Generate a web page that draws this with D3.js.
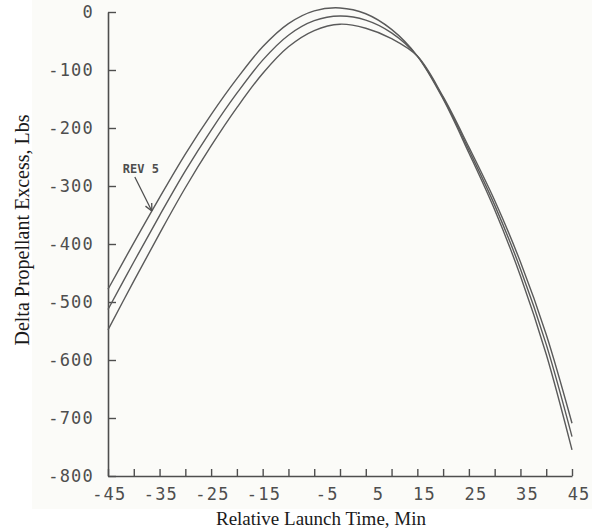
<!DOCTYPE html>
<html>
<head>
<meta charset="utf-8">
<script src="https://cdn.jsdelivr.net/npm/d3@7"></script>
<style>
  html, body { margin: 0; padding: 0; background: #ffffff; }
  svg { display: block; }
</style>
</head>
<body>
<svg id="chart" width="592" height="529"></svg>
<script>
// Relative launch time (min) at which each curve is sampled
const launchTimes = [-45, -40, -35, -30, -25, -20, -15, -10, -5, 0, 5, 10, 15, 20, 25, 30, 35, 40, 45];

// Delta propellant excess (lbs) for the three revolutions
const revUpper  = [-478, -398, -320, -245, -177, -115, -60, -20,   2,   7,  -3, -30, -76, -150, -243, -341, -455, -590, -755];
const revMiddle = [-513, -431, -351, -274, -204, -140, -83, -40, -15,  -7, -14, -36, -76, -148, -238, -333, -443, -573, -732];
const revLower  = [-548, -464, -382, -303, -231, -165, -106, -60, -32, -21, -28, -46, -76, -146, -233, -325, -431, -556, -709];

// Axis ticks and labels
const xTickValues = [-45, -40, -35, -30, -25, -20, -15, -10, -5, 0, 5, 10, 15, 20, 25, 30, 35, 40, 45];
const xLabelled   = [-45, -35, -25, -15, -5, 5, 15, 25, 35, 45];
const yTickValues = [0, -100, -200, -300, -400, -500, -600, -700, -800];

// Annotation
const calloutText = "REV 5";
const calloutTime = -36.5;

const svg = d3.select("#chart");
const ink = "#4e4e4e";
const plotterFont = "'DejaVu Sans Mono', monospace";

// faint paper tone behind the plot
svg.append("rect").attr("x", 32).attr("y", 0).attr("width", 560).attr("height", 509)
  .attr("fill", "#fbfbf8");

const x = d3.scaleLinear().domain([-45, 45]).range([108, 572]);
const y = d3.scaleLinear().domain([-800, 0]).range([476, 12]);

// Y axis with inward ticks
const yAxis = d3.axisLeft(y)
  .tickValues(yTickValues)
  .tickSizeInner(-8)
  .tickSizeOuter(0)
  .tickPadding(14)
  .tickFormat(d => d === 0 ? "0" : "-" + Math.abs(d));

const gy = svg.append("g").attr("transform", `translate(${x(-45)},0)`).call(yAxis);

// X axis with inward ticks, every other one labelled
const xAxis = d3.axisBottom(x)
  .tickValues(xTickValues)
  .tickSizeInner(-7)
  .tickSizeOuter(0)
  .tickPadding(12)
  .tickFormat(d => xLabelled.includes(d) ? (d < 0 ? "-" + Math.abs(d) : String(d)) : "");

const gx = svg.append("g").attr("transform", `translate(0,${y(-800)})`).call(xAxis);

[gx, gy].forEach(g => {
  g.select(".domain").attr("stroke", ink).attr("stroke-width", 1.6);
  g.selectAll(".tick line").attr("stroke", ink).attr("stroke-width", 1.4);
  g.selectAll(".tick text")
    .attr("fill", ink)
    .style("font-family", plotterFont)
    .style("font-size", "17px")
    .style("letter-spacing", "1.2px");
});
// labels sit just right of their tick; the single-digit negative one is set a little wider
gx.selectAll(".tick text")
  .attr("text-anchor", "end")
  .attr("x", d => d === -5 ? 24 : 18);

// Curves
const line = d3.line()
  .x((d, i) => x(launchTimes[i]))
  .y(d => y(d))
  .curve(d3.curveCatmullRom.alpha(0.5));

const curves = svg.append("g");
const paths = [revUpper, revMiddle, revLower].map(series =>
  curves.append("path")
    .attr("d", line(series))
    .attr("fill", "none")
    .attr("stroke", "#5a5a5a")
    .attr("stroke-width", 1.4)
    .node()
);

// Find where the upper curve crosses the callout time
function pointAtX(pathNode, px) {
  let lo = 0, hi = pathNode.getTotalLength();
  for (let k = 0; k < 40; k++) {
    const mid = (lo + hi) / 2;
    if (pathNode.getPointAtLength(mid).x < px) lo = mid; else hi = mid;
  }
  return pathNode.getPointAtLength((lo + hi) / 2);
}
const tip = pointAtX(paths[0], x(calloutTime));
const tail = { x: tip.x - 17, y: tip.y - 34 };

const ann = svg.append("g").attr("stroke", ink).attr("stroke-width", 1.3).attr("fill", "none");
ann.append("line").attr("x1", tail.x).attr("y1", tail.y).attr("x2", tip.x).attr("y2", tip.y);
const ang = Math.atan2(tip.y - tail.y, tip.x - tail.x);
[0.45, -0.45].forEach(a => {
  ann.append("line")
    .attr("x1", tip.x).attr("y1", tip.y)
    .attr("x2", tip.x - 8 * Math.cos(ang + a))
    .attr("y2", tip.y - 8 * Math.sin(ang + a));
});

svg.append("text")
  .attr("x", tail.x - 12).attr("y", tail.y - 4)
  .attr("fill", ink)
  .style("font-family", plotterFont)
  .style("font-size", "12px")
  .style("font-weight", "bold")
  .text(calloutText);

// Axis titles
svg.append("text")
  .attr("x", 321).attr("y", 525)
  .attr("text-anchor", "middle")
  .attr("fill", "#1a1a1a")
  .style("font-family", "'Liberation Serif', 'Times New Roman', serif")
  .style("font-size", "19px")
  .text("Relative Launch Time, Min");

svg.append("text")
  .attr("transform", "translate(29,230) rotate(-90)")
  .attr("text-anchor", "middle")
  .attr("fill", "#1a1a1a")
  .style("font-family", "'Liberation Serif', 'Times New Roman', serif")
  .style("font-size", "20px")
  .text("Delta Propellant Excess, Lbs");
</script>
</body>
</html>
